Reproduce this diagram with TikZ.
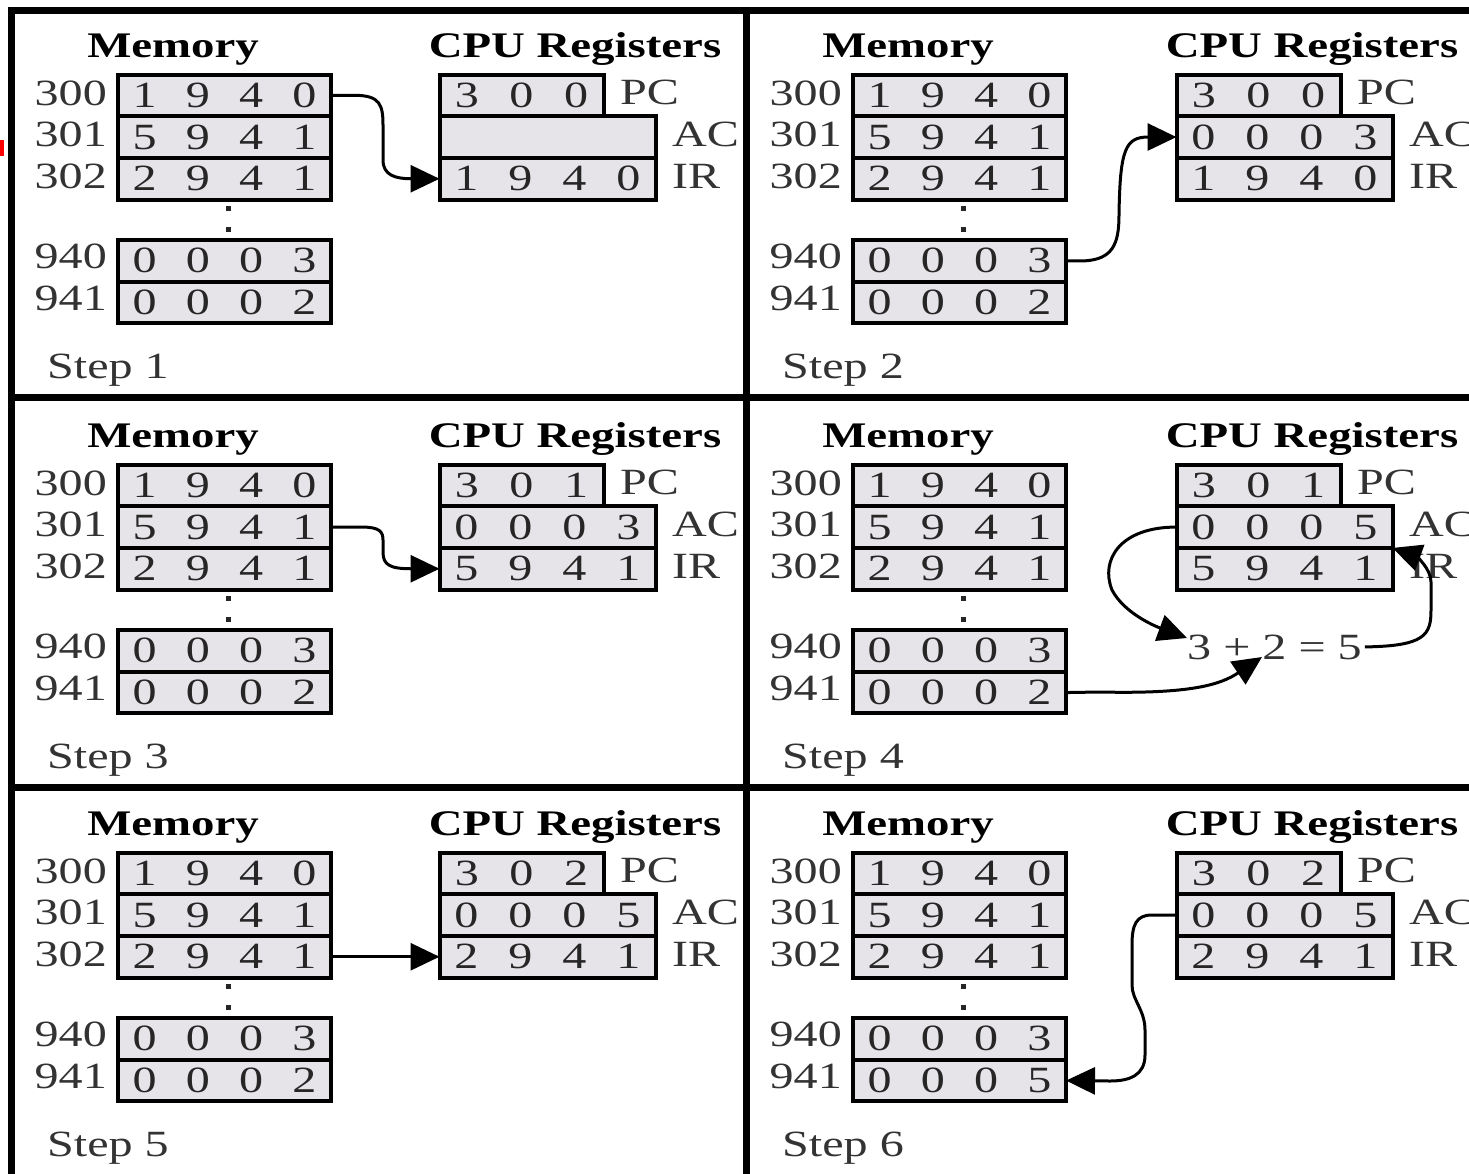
\documentclass[tikz,border=0pt]{standalone}
\usepackage{fontspec}
\setmainfont{Liberation Serif}
\usetikzlibrary{arrows.meta}
\definecolor{cellfill}{RGB}{230,228,232}
\newcommand\sx[1]{\scalebox{1.3}[1]{#1}}
\newcommand\tf{\fontsize{37}{40}\selectfont}
\newcommand\hf{\fontsize{36}{40}\selectfont\bfseries}
\newcommand\dgf[1]{\makebox[53.25pt]{\sx{#1}}}
\newcommand\dga[1]{\makebox[54pt]{\sx{#1}}}
\newcommand\dgp[1]{\makebox[54.67pt]{\sx{#1}}}
\newcommand\fm[4]{\dgf{#1}\dgf{#2}\dgf{#3}\dgf{#4}}
\newcommand\fa[4]{\dga{#1}\dga{#2}\dga{#3}\dga{#4}}
\newcommand\fp[3]{\dgp{#1}\dgp{#2}\dgp{#3}}
\tikzset{
  memcell/.style={draw=black, line width=4pt, fill=cellfill, minimum width=213pt,
    minimum height=41.7pt, inner sep=0pt, outer sep=0pt, anchor=north west,
    font=\tf, text=black!85},
  regcell/.style={memcell, minimum width=216pt},
  pccell/.style={memcell, minimum width=164pt},
  addr/.style={anchor=base east, font=\tf, text=black!80, inner sep=0pt},
  lbl/.style={anchor=base west, font=\tf, text=black!80, inner sep=0pt},
  hdr/.style={anchor=base, font=\hf, text=black, inner sep=0pt},
  flow/.style={line width=3pt, -{Triangle[length=29pt,width=27pt]}},
  frameline/.style={line width=7pt, line cap=rect},
}
\newcommand\drawpanel[9]{%
  \begin{scope}[shift={(#2,#4)}]
    \node[hdr] (hm#1) at (173,57) {\sx{Memory}};
    \node[memcell] (ma#1) at (118,74.5) {\fm1940};
    \node[memcell] (mb#1) at (118,116.2) {\fm5941};
    \node[memcell] (mc#1) at (118,157.9) {\fm2941};
    \node[memcell] (md#1) at (118,240) {\fm0003};
    \node[memcell] (me#1) at (118,281.7) {#8};
    \node[addr] (aa#1) at (107,105) {\sx{300}};
    \node[addr] (ab#1) at (107,146) {\sx{301}};
    \node[addr] (ac#1x) at (107,188) {\sx{302}};
    \node[addr] (ad#1) at (107,268) {\sx{940}};
    \node[addr] (ae#1) at (107,310) {\sx{941}};
    \fill[black!85] (226,205.5) rectangle (230.5,210.5);
    \fill[black!85] (226,226.5) rectangle (230.5,231.5);
    \node[lbl] (st#1) at (47,378) {\sx{Step #9}};
  \end{scope}
  \begin{scope}[shift={(#3,#4)}]
    \node[hdr] (hr#1) at (575,57) {\sx{CPU Registers}};
    \node[pccell] (pc#1) at (439.5,74.5) {#5};
    \node[regcell] (ac#1) at (439.5,116.2) {#6};
    \node[regcell] (ir#1) at (439.5,157.9) {#7};
    \node[lbl] (lpc#1) at (620,104) {\sx{PC}};
    \node[lbl] (lac#1) at (672,146) {\sx{AC}};
    \node[lbl] (lir#1) at (672,188) {\sx{IR}};
  \end{scope}}
\begin{document}
\begin{tikzpicture}[x=1pt,y=-1pt]
\useasboundingbox[fill=white] (0,0) rectangle (1469,1173);
% frame
\draw[frameline] (11,1185) -- (11,10) -- (1485,10);
\draw[frameline] (746,10) -- (746,1185);
\draw[frameline] (11,397) -- (1485,397);
\draw[frameline] (11,787) -- (1485,787);
\fill[red] (0,140) rectangle (4,156);
% panels
\drawpanel{1}{0}{0}{0}{\fp300}{}{\fa1940}{\fm0002}{1}
\drawpanel{2}{735}{737}{0}{\fp300}{\fa0003}{\fa1940}{\fm0002}{2}
\drawpanel{3}{0}{0}{390}{\fp301}{\fa0003}{\fa5941}{\fm0002}{3}
\drawpanel{4}{735}{737}{390}{\fp301}{\fa0005}{\fa5941}{\fm0002}{4}
\drawpanel{5}{0}{0}{778}{\fp302}{\fa0005}{\fa2941}{\fm0002}{5}
\drawpanel{6}{735}{737}{778}{\fp302}{\fa0005}{\fa2941}{\fm0005}{6}
% step 1
\draw[flow] (ma1.east) -- (355,95.35) .. controls (380,95.35) and (383,105) .. (383,125)
  -- (383,160) .. controls (383,175) and (395,178.75) .. (ir1.west);
% step 2
\draw[flow] (md2.east) -- (1085,260.85) .. controls (1112,259) and (1119,245) .. (1119,215)
  .. controls (1120,150) and (1125,137) .. (ac2.west);
% step 3
\draw[flow] (mb3.east) -- (362,527.05) .. controls (380,527.05) and (383,532) .. (383,540)
  -- (383,552) .. controls (383,565) and (390,568.75) .. (ir3.west);
% step 4
\node[lbl] (sum) at (1187,659) {\sx{3 + 2 = 5}};
\draw[flow] (ac4.west) .. controls (1120,527) and (1100,560) .. (1112,590)
  .. controls (1125,615) and (1160,628) .. (1187,638);
\draw[flow] ([xshift=3pt]sum.east) .. controls (1425,646) and (1431,635) .. (1431,610)
  -- (1431,582) .. controls (1431,568) and (1415,556) .. (ac4.south east);
\draw[flow] (me4.east) -- (1100,692) .. controls (1190,694) and (1220,685) .. (1262,657);
% step 5
\draw[flow] (mc5.east) -- (ir5.west);
% step 6
\draw[flow] (ac6.west) -- (1152,915) .. controls (1136,915) and (1132,925) .. (1132,945)
  -- (1132,985) .. controls (1132,1000) and (1145,1010) .. (1145,1030)
  -- (1145,1055) .. controls (1145,1075) and (1130,1081) .. (1110,1081) -- (me6.east);
\end{tikzpicture}
\end{document}
